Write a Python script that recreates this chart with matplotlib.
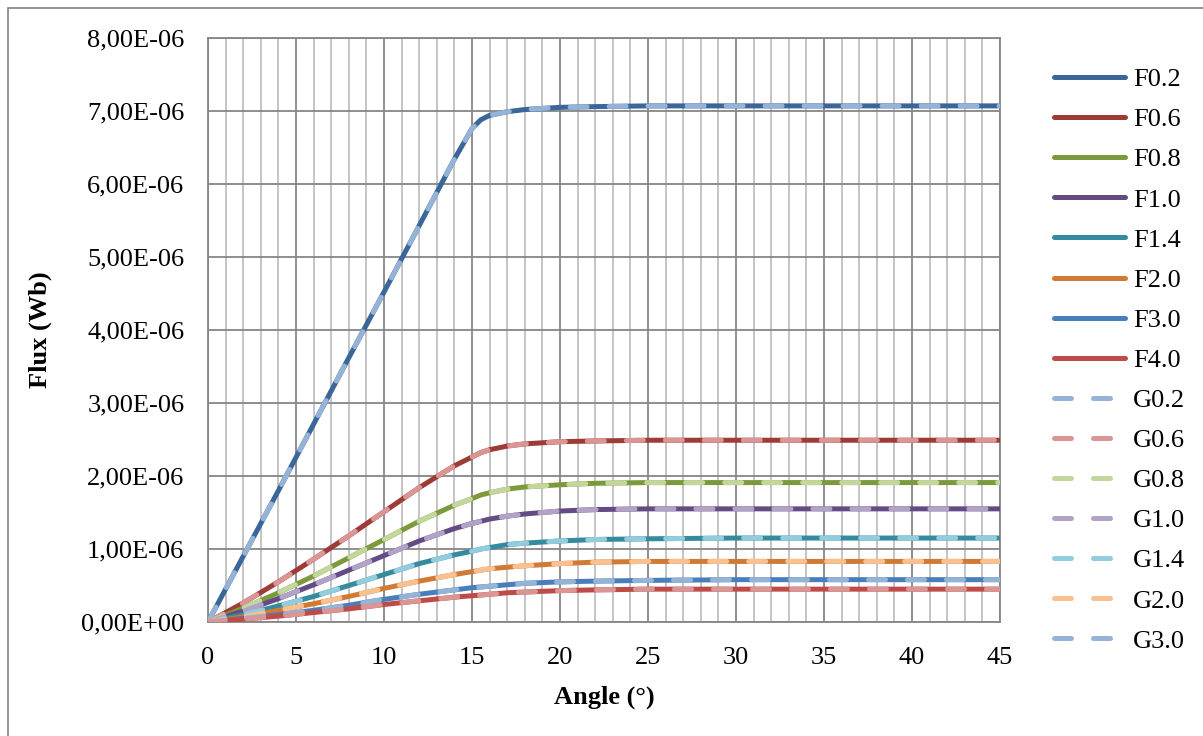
import matplotlib
matplotlib.use('Agg')
import matplotlib.pyplot as plt
from matplotlib.patches import Rectangle
from matplotlib.ticker import FuncFormatter, MultipleLocator

plt.rcParams['font.family'] = ['Liberation Serif', 'DejaVu Serif']

# angle (degrees)
angle = [0, 2, 4, 6, 8, 10, 12, 14, 15, 15.5, 16, 17, 18, 20, 22, 25, 30, 35, 40, 45]

# flux values in units of 1e-6 Wb
f02 = [0.0, 0.90, 1.80, 2.71, 3.62, 4.52, 5.43, 6.34, 6.76, 6.88, 6.94, 6.99, 7.02, 7.05, 7.06, 7.07, 7.07, 7.07, 7.07, 7.07]
f06 = [0.0, 0.26, 0.55, 0.86, 1.18, 1.51, 1.84, 2.14, 2.26, 2.32, 2.36, 2.41, 2.44, 2.47, 2.48, 2.49, 2.49, 2.49, 2.49, 2.49]
f08 = [0.0, 0.19, 0.40, 0.63, 0.88, 1.13, 1.38, 1.60, 1.69, 1.74, 1.77, 1.82, 1.85, 1.88, 1.90, 1.91, 1.91, 1.91, 1.91, 1.91]
f10 = [0.0, 0.15, 0.32, 0.51, 0.71, 0.91, 1.11, 1.28, 1.35, 1.38, 1.41, 1.45, 1.48, 1.52, 1.54, 1.55, 1.55, 1.55, 1.55, 1.55]
f14 = [0.0, 0.10, 0.22, 0.35, 0.50, 0.65, 0.80, 0.92, 0.97, 1.00, 1.02, 1.06, 1.08, 1.11, 1.13, 1.14, 1.15, 1.15, 1.15, 1.15]
f20 = [0.0, 0.07, 0.16, 0.25, 0.35, 0.46, 0.56, 0.65, 0.69, 0.71, 0.73, 0.75, 0.77, 0.80, 0.82, 0.83, 0.83, 0.83, 0.83, 0.83]
f30 = [0.0, 0.05, 0.10, 0.16, 0.23, 0.31, 0.38, 0.44, 0.47, 0.48, 0.49, 0.51, 0.53, 0.55, 0.56, 0.57, 0.58, 0.58, 0.58, 0.58]
f40 = [0.0, 0.04, 0.08, 0.13, 0.18, 0.24, 0.29, 0.34, 0.36, 0.37, 0.38, 0.40, 0.41, 0.43, 0.44, 0.45, 0.45, 0.45, 0.45, 0.45]

# G curves lie on top of the F curves
g02, g06, g08, g10, g14, g20, g30, g40 = f02, f06, f08, f10, f14, f20, f30, f40

f_labels = ['F0.2', 'F0.6', 'F0.8', 'F1.0', 'F1.4', 'F2.0', 'F3.0', 'F4.0']
g_labels = ['G0.2', 'G0.6', 'G0.8', 'G1.0', 'G1.4', 'G2.0', 'G3.0', 'G4.0']
f_series = [f02, f06, f08, f10, f14, f20, f30, f40]
g_series = [g02, g06, g08, g10, g14, g20, g30, g40]
f_colors = ['#3B6699', '#9E3B36', '#7C9A3C', '#634C83', '#348BA0', '#D07A33', '#4A7EBB', '#BE4B48']
g_colors = ['#95B3D7', '#D99694', '#C3D69B', '#B3A2C7', '#93CDDD', '#FAC090', '#95B3D7', '#D99694']

fig = plt.figure(figsize=(12.03, 7.36), dpi=100)
ax = fig.add_axes([208 / 1203, 1 - 622 / 736, 792 / 1203, 584 / 736])

for vals, lab, col in zip(f_series, f_labels, f_colors):
    ax.plot(angle, [v * 1e-6 for v in vals], color=col, lw=3.6, label=lab,
            solid_capstyle='round', solid_joinstyle='round', zorder=3)
for vals, lab, col in zip(g_series, g_labels, g_colors):
    if lab == 'G4.0':
        lab = '_nolegend_'
    ax.plot(angle, [v * 1e-6 for v in vals], color=col, lw=3.6, label=lab,
            dashes=(3.4, 4.4), dash_capstyle='round', zorder=4)

ax.set_xlim(0, 45)
ax.set_ylim(0, 8e-6)
ax.xaxis.set_major_locator(MultipleLocator(5))
ax.xaxis.set_minor_locator(MultipleLocator(1))
ax.yaxis.set_major_locator(MultipleLocator(1e-6))
ax.yaxis.set_major_formatter(FuncFormatter(lambda v, p: ('%.2E' % v).replace('.', ',')))

ax.grid(which='major', color='#868686', lw=1.3, zorder=1)
ax.grid(which='minor', axis='x', color='#BFBFBF', lw=1.3, zorder=1)
ax.set_axisbelow(True)
for s in ax.spines.values():
    s.set_color('#868686')
    s.set_linewidth(1.3)
ax.tick_params(which='both', length=0, labelsize=19)
ax.tick_params(axis='y', pad=17)
ax.tick_params(axis='x', pad=18)

ax.set_xlabel('Angle (°)', fontsize=19, fontweight='bold', labelpad=12)
ax.set_ylabel('Flux (Wb)', fontsize=19, fontweight='bold', labelpad=21)

leg = ax.legend(loc='upper left', bbox_to_anchor=(1.055, 0.967), frameon=False,
                fontsize=19, handlelength=2.7, handletextpad=0.3,
                labelspacing=0.63, borderaxespad=0.0)

fig.patches.append(Rectangle((8 / 1203, -0.1), 1.2, 1 - 8 / 736 + 0.1,
                             transform=fig.transFigure, fill=False,
                             edgecolor='#8C8C8C', lw=1.3))

fig.savefig('out.png', dpi=100)
